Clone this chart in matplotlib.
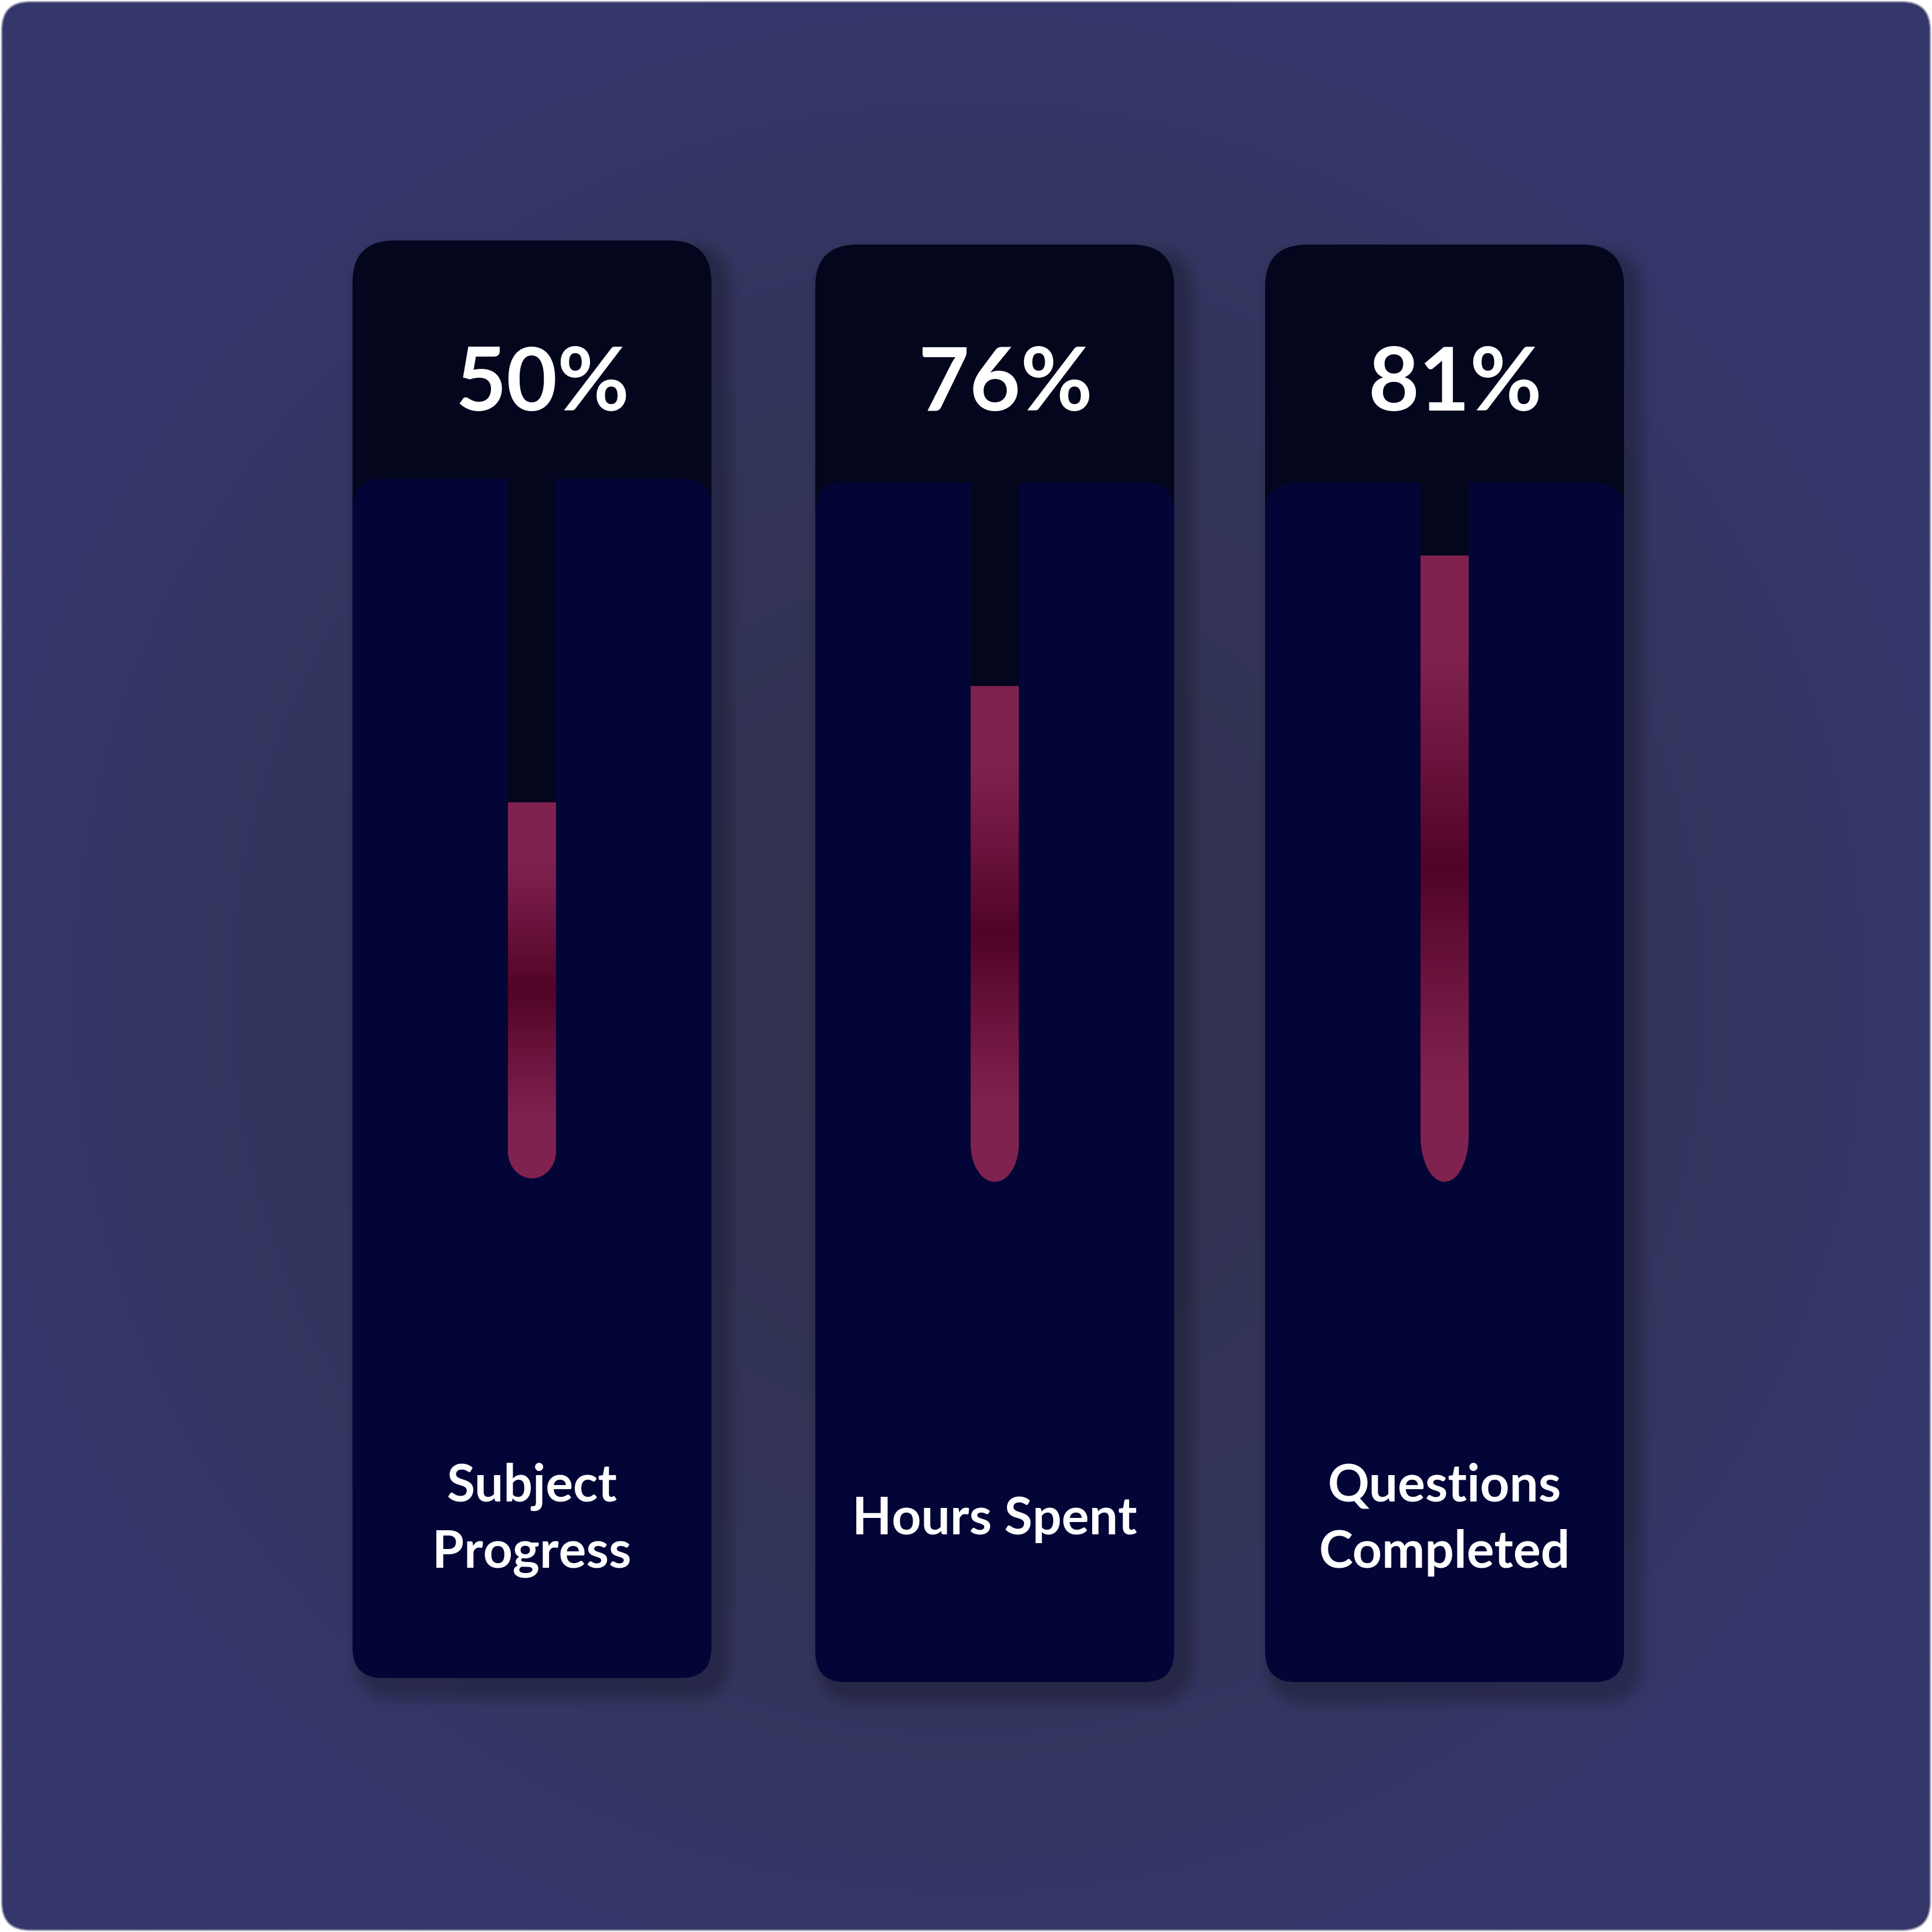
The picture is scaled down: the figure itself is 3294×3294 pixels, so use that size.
import numpy as np
import matplotlib.pyplot as plt
from matplotlib.patches import FancyBboxPatch, PathPatch, Rectangle
from matplotlib.path import Path
from matplotlib.colors import to_rgb

labels = ["Subject\nProgress", "Hours Spent", "Questions\nCompleted"]
values = [0.50, 0.76, 0.81]

W = 3294
# card layout in pixels (y measured from the top)
card_x = [601, 1390, 2157]
card_y = [410, 417, 417]
card_w, card_h = 612, 2451
head_h = 406
tube_w = 82
tube_top = 700
base_y = [1963, 1951, 1937]
cap_h = [46, 64, 78]
px_per_unit = [1190, 1028, 1222]   # each thermometer has its own axis scale

head_col = "#04061d"
body_col = "#030537"
light = np.array(to_rgb("#80224f"))
dark = np.array(to_rgb("#520327"))
font = "Lato"

fig = plt.figure(figsize=(W / 300, W / 300), dpi=300, facecolor="white")
bg = fig.add_axes([0, 0, 1, 1])
bg.set_xlim(0, W)
bg.set_ylim(W, 0)
bg.axis("off")

frame = FancyBboxPatch((3, 3), W - 6, W - 6, boxstyle="round,pad=0,rounding_size=48",
                       fc="none", ec="#9496ad", lw=0.6, zorder=1)
bg.add_patch(frame)

# radial background glow
yy, xx = np.mgrid[0:W:4, 0:W:4]
t = np.clip(np.hypot(xx - 1650, yy - 1700) / 1750, 0, 1) ** 1.6
c0 = np.array(to_rgb("#31324e"))
c1 = np.array(to_rgb("#35376b"))
img = c0 * (1 - t[..., None]) + c1 * t[..., None]
im = bg.imshow(img, extent=(0, W, W, 0), zorder=0, interpolation="bilinear")
im.set_clip_path(frame)
bg.set_xlim(0, W)
bg.set_ylim(W, 0)

for i in range(3):
    x, y = card_x[i], card_y[i]
    cx = x + card_w / 2

    # soft shadow, mostly to the right and below
    for k in range(12):
        s = 5 * k
        bg.add_patch(FancyBboxPatch((x + 18 - s / 2, y + 22 - s / 2), card_w + s, card_h + s,
                                    boxstyle="round,pad=0,rounding_size=%d" % (60 + s / 2),
                                    fc="#0b0c22", ec="none", alpha=0.025, zorder=2))

    bg.add_patch(FancyBboxPatch((x, y), card_w, card_h, boxstyle="round,pad=0,rounding_size=72",
                                fc=head_col, ec="none", zorder=3))
    bg.add_patch(FancyBboxPatch((x, y + head_h), card_w, card_h - head_h,
                                boxstyle="round,pad=0,rounding_size=52",
                                fc=body_col, ec="none", zorder=4))
    bg.add_patch(Rectangle((cx - tube_w / 2, y + head_h), tube_w, base_y[i] - (y + head_h),
                           fc=head_col, ec="none", zorder=5))

    bg.text(cx + 18, 700, f"{values[i]:.0%}", ha="center", va="baseline",
            fontsize=36, fontweight="bold", color="white", family=font, zorder=6)

    lines = labels[i].split("\n")
    n = len(lines)
    for j, line in enumerate(lines):
        yb = 2585 + 31 + (j - (n - 1) / 2) * 113
        bg.text(cx, yb, line, ha="center", va="baseline", fontsize=21,
                fontweight="bold", color="white", family=font, zorder=6)

    # thermometer bar
    ppu = px_per_unit[i]
    bottom_px = base_y[i] + cap_h[i]
    ax = fig.add_axes([(cx - tube_w / 2) / W, 1 - bottom_px / W,
                       tube_w / W, (bottom_px - tube_top) / W])
    ax.axis("off")
    cap = cap_h[i] / ppu
    ymax = (base_y[i] - tube_top) / ppu
    bar = ax.bar(0, values[i], width=1, color="none")[0]
    x0, w, h = bar.get_x(), bar.get_width(), bar.get_height()

    th = np.linspace(0, -np.pi, 80)
    arc = np.column_stack([x0 + w / 2 + w / 2 * np.cos(th), cap * np.sin(th)])
    verts = np.vstack([[[x0, h], [x0 + w, h]], arc, [[x0, h]]])
    clip = PathPatch(Path(verts, closed=True), fc="none", ec="none")
    ax.add_patch(clip)

    ys = np.linspace(-cap, h, 500)
    mid = (h - cap) / 2
    u = np.abs(ys - mid) / ((h + cap) / 2)
    f = np.clip(1 - u / 0.7, 0, 1) ** 1.1
    grad = light + (dark - light) * f[:, None]
    gim = ax.imshow(grad[:, None, :], extent=(x0, x0 + w, -cap, h), origin="lower",
                    aspect="auto", interpolation="bilinear")
    gim.set_clip_path(clip)
    ax.set_xlim(-0.5, 0.5)
    ax.set_ylim(-cap, ymax)

fig.savefig("out.png", dpi=300, facecolor="white")
